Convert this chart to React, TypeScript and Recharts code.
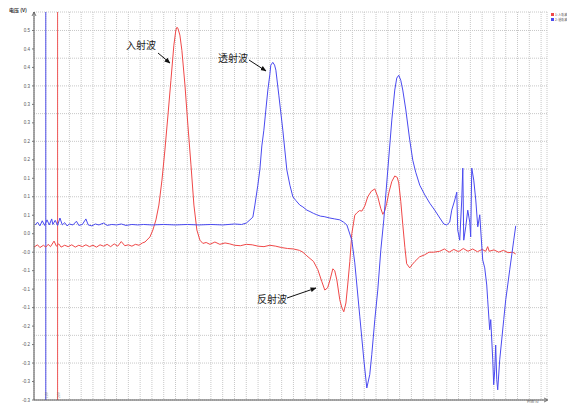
import { CartesianGrid, Line, LineChart, ReferenceLine, XAxis, YAxis } from "recharts";

// 1 unit on the time axis = one grid division
const incidentRows: [number, number][] = [
  [0.0, -0.009], [0.3, -0.004], [0.5, -0.01], [0.8, -0.005], [1.0, -0.009], [1.2, -0.003],
  [1.4, -0.008], [1.7, 0.004], [1.9, -0.007], [2.1, -0.002], [2.3, -0.009], [2.6, -0.005],
  [2.9, -0.008], [3.2, -0.004], [3.5, -0.009], [3.8, -0.005], [4.1, -0.008], [4.4, -0.004],
  [4.7, -0.008], [5.0, -0.005], [5.3, -0.009], [5.6, -0.004], [5.9, -0.007], [6.2, -0.003],
  [6.5, -0.008], [6.8, -0.002], [7.1, -0.007], [7.4, 0.003], [7.7, -0.006], [8.0, -0.004],
  [8.3, -0.007], [8.6, -0.003], [8.9, -0.005], [9.2, 0.0], [9.41, 0.002], [9.83, 0.013],
  [10.08, 0.028], [10.34, 0.05], [10.59, 0.082], [10.85, 0.136], [11.1, 0.201], [11.36, 0.277],
  [11.61, 0.352], [11.86, 0.428], [12.03, 0.461], [12.12, 0.467], [12.2, 0.465], [12.37, 0.45],
  [12.54, 0.417], [12.8, 0.342], [13.05, 0.255], [13.31, 0.169], [13.56, 0.082], [13.81, 0.028],
  [14.07, 0.006], [14.32, -0.001], [14.6, 0.001], [14.92, -0.003], [15.34, 0.002], [15.76, -0.003],
  [16.2, 0.0], [16.6, -0.002], [17.0, -0.005], [17.5, -0.006], [18.0, -0.003], [18.5, -0.004],
  [19.0, -0.007], [19.5, -0.008], [20.0, -0.005], [20.5, -0.007], [21.0, -0.01], [21.5, -0.012],
  [22.0, -0.013], [22.5, -0.016], [22.8, -0.02], [23.14, -0.028], [23.7, -0.04], [24.07, -0.058],
  [24.41, -0.084], [24.66, -0.102], [24.9, -0.097], [25.1, -0.08], [25.34, -0.056], [25.5, -0.06],
  [25.68, -0.08], [25.93, -0.123], [26.1, -0.14], [26.27, -0.149], [26.45, -0.13], [26.6, -0.091],
  [26.78, -0.04], [26.95, 0.02], [27.2, 0.06], [27.37, 0.065], [27.6, 0.07], [27.8, 0.069],
  [28.05, 0.08], [28.3, 0.1], [28.6, 0.112], [28.9, 0.117], [29.15, 0.1], [29.4, 0.075],
  [29.58, 0.062], [29.75, 0.07], [29.9, 0.085], [30.1, 0.11], [30.34, 0.133], [30.59, 0.145],
  [30.8, 0.142], [30.93, 0.13], [31.1, 0.09], [31.27, 0.04], [31.45, -0.01], [31.6, -0.045],
  [31.86, -0.054], [32.1, -0.046], [32.3, -0.04], [32.7, -0.03], [33.1, -0.026], [33.5, -0.02],
  [33.9, -0.02], [34.4, -0.018], [34.8, -0.013], [35.2, -0.02], [35.6, -0.014], [36.0, -0.019],
  [36.4, -0.012], [36.8, -0.018], [37.2, -0.013], [37.6, -0.019], [38.0, -0.014], [38.3, -0.018],
  [38.47, -0.008], [38.6, -0.018], [39.0, -0.015], [39.4, -0.02], [39.8, -0.016], [40.2, -0.021],
  [40.6, -0.02], [40.85, -0.024],
];

const transmittedRows: [number, number][] = [
  [0.1, 0.039], [0.3, 0.045], [0.5, 0.037], [0.7, 0.048], [0.9, 0.038], [1.1, 0.05],
  [1.3, 0.039], [1.5, 0.052], [1.6, 0.04], [1.8, 0.049], [2.0, 0.038], [2.2, 0.054],
  [2.4, 0.039], [2.6, 0.044], [2.8, 0.037], [3.0, 0.041], [3.3, 0.039], [3.6, 0.047],
  [3.8, 0.038], [4.1, 0.04], [4.4, 0.052], [4.6, 0.039], [4.9, 0.037], [5.2, 0.041],
  [5.5, 0.039], [5.9, 0.043], [6.2, 0.038], [6.6, 0.04], [7.0, 0.039], [7.4, 0.041],
  [7.8, 0.038], [8.3, 0.04], [8.8, 0.039], [9.3, 0.04], [10.0, 0.039], [11.0, 0.04],
  [12.0, 0.039], [13.0, 0.04], [14.0, 0.039], [15.0, 0.04], [16.0, 0.039], [17.0, 0.041],
  [17.6, 0.04], [18.0, 0.043], [18.31, 0.05], [18.56, 0.056], [18.73, 0.082], [18.98, 0.125],
  [19.15, 0.158], [19.32, 0.21], [19.49, 0.244], [19.66, 0.288], [19.83, 0.331], [20.0, 0.365],
  [20.08, 0.385], [20.25, 0.391], [20.4, 0.385], [20.51, 0.374], [20.76, 0.32], [21.1, 0.244],
  [21.44, 0.158], [21.7, 0.125], [21.95, 0.1], [22.2, 0.092], [22.54, 0.082], [22.8, 0.078],
  [23.14, 0.071], [23.4, 0.068], [23.7, 0.064], [23.98, 0.061], [24.3, 0.058], [24.6, 0.057],
  [25.08, 0.054], [25.5, 0.052], [25.93, 0.05], [26.25, 0.045], [26.53, 0.039], [26.95, 0.006],
  [27.2, -0.043], [27.63, -0.16], [27.97, -0.253], [28.22, -0.314], [28.47, -0.285],
  [28.64, -0.242], [28.9, -0.166], [29.15, -0.102], [29.41, -0.015], [29.66, 0.05], [30.0, 0.158],
  [30.34, 0.266], [30.59, 0.331], [30.76, 0.357], [30.93, 0.363], [31.1, 0.352], [31.27, 0.331],
  [31.53, 0.288], [31.86, 0.223], [32.12, 0.179], [32.37, 0.153], [32.71, 0.125], [33.14, 0.104],
  [33.56, 0.086], [33.98, 0.071], [34.41, 0.054], [34.75, 0.041], [35.0, 0.039], [35.25, 0.045],
  [35.42, 0.071], [35.68, 0.093], [35.85, 0.11], [35.93, 0.028], [36.1, 0.006], [36.27, 0.093],
  [36.36, 0.162], [36.44, 0.006], [36.61, 0.035], [36.78, 0.071], [36.95, 0.045], [37.03, 0.013],
  [37.12, 0.162], [37.29, 0.136], [37.46, 0.093], [37.63, 0.035], [37.8, 0.061], [37.88, 0.028],
  [38.05, -0.037], [38.22, -0.054], [38.39, -0.091], [38.47, -0.123], [38.64, -0.188],
  [38.73, -0.166], [38.9, -0.253], [38.98, -0.307], [39.07, -0.275], [39.15, -0.221],
  [39.24, -0.296], [39.32, -0.318], [39.49, -0.253], [39.66, -0.21], [39.83, -0.166], [40.0, -0.123],
  [40.17, -0.091], [40.34, -0.058], [40.51, -0.026], [40.68, 0.006], [40.85, 0.037],
];

const yTicks = [
  0.48, 0.46, 0.44, 0.42, 0.4, 0.38, 0.36, 0.34, 0.32, 0.3, 0.28, 0.26, 0.24, 0.22,
  0.2, 0.18, 0.16, 0.14, 0.12, 0.1, 0.08, 0.06, 0.04, 0.02, 0, -0.02, -0.04, -0.06,
  -0.08, -0.1, -0.12, -0.14, -0.16, -0.18, -0.2, -0.22, -0.24, -0.26, -0.28, -0.3, -0.32, -0.34,
];
const xTicks = [
  0, 1, 2, 3, 4, 5, 6, 7, 8, 9, 10, 11, 12, 13, 14, 15, 16, 17, 18, 19, 20, 21,
  22, 23, 24, 25, 26, 27, 28, 29, 30, 31, 32, 33, 34, 35, 36, 37, 38, 39, 40, 41, 42, 43,
];
const cursors = [
  { t: 1, color: "#5050ea", label: "1.00" },
  { t: 2, color: "#f05a5a", label: "2.00" },
];

const RED = "#f04848";
const BLUE = "#4a4af0";
const CJK = '"Noto Sans CJK SC", "Noto Sans", sans-serif';

const toPts = (rows: [number, number][]) => rows.map(([t, v]) => ({ t, v }));

export default function App() {
  return (
    <div style={{ position: "absolute", left: 0, top: 0, width: 567, height: 403, background: "#fff" }}>
      <LineChart width={567} height={403} margin={{ top: 12, right: 20, bottom: 0, left: 4 }}>
        <CartesianGrid stroke="#c8c8c8" strokeDasharray="1 1" />
        <XAxis
          type="number"
          dataKey="t"
          domain={[0, 43.5]}
          ticks={xTicks}
          tickFormatter={() => ""}
          tickLine={false}
          height={3}
          axisLine={{ stroke: "#555" }}
          allowDataOverflow
        />
        <YAxis
          type="number"
          domain={[-0.34, 0.5]}
          ticks={yTicks}
          width={30}
          tickSize={2}
          tickFormatter={(v: number) => v.toFixed(1)}
          tick={{ fontSize: 4.5, fill: "#555", fontFamily: "Arial, sans-serif" }}
          axisLine={{ stroke: "#555" }}
          tickLine={{ stroke: "#777" }}
          allowDataOverflow
        />
        {cursors.map((c) => (
          <ReferenceLine
            key={c.t}
            x={c.t}
            stroke={c.color}
            strokeWidth={1}
            label={{ value: c.label, position: "insideBottomLeft", angle: -90, fontSize: 3.5, fill: "#666", offset: 2 }}
          />
        ))}
        <Line
          data={toPts(incidentRows)}
          dataKey="v"
          stroke={RED}
          strokeWidth={1}
          dot={false}
          isAnimationActive={false}
        />
        <Line
          data={toPts(transmittedRows)}
          dataKey="v"
          stroke={BLUE}
          strokeWidth={1}
          dot={false}
          isAnimationActive={false}
        />
      </LineChart>
      <svg width={567} height={403} style={{ position: "absolute", left: 0, top: 0, pointerEvents: "none" }}>
        <defs>
          <marker id="ah" viewBox="0 0 10 10" refX="9" refY="5" markerWidth="6" markerHeight="6" orient="auto">
            <path d="M0,1 L10,5 L0,9 z" fill="#111" />
          </marker>
        </defs>
        <text x={9} y={12} fontSize={5} fontWeight="bold" fill="#333" fontFamily={CJK}>电压 (V)</text>
        <path d="M32,16 L34,12 L36,16" fill="none" stroke="#555" strokeWidth={0.8} />
        <path d="M544,398 L548,400 L544,402" fill="none" stroke="#555" strokeWidth={0.8} />
        <text x={527} y={403} fontSize={3.5} fill="#555" fontFamily={CJK}>时间 (s)</text>

        <rect x={551} y={13} width={3} height={3} fill={RED} />
        <text x={555} y={16} fontSize={3} fill="#444" fontFamily={CJK}>1: 入射波</text>
        <rect x={551} y={18} width={3} height={3} fill={BLUE} />
        <text x={555} y={21} fontSize={3} fill="#444" fontFamily={CJK}>2: 透射波</text>

        <text x={126} y={49} fontSize={10} fill="#222" fontFamily={CJK}>入射波</text>
        <line x1={158} y1={53} x2={170} y2={63} stroke="#111" strokeWidth={1} markerEnd="url(#ah)" />
        <text x={218} y={62} fontSize={10} fill="#222" fontFamily={CJK}>透射波</text>
        <line x1={249} y1={60} x2={266} y2={71} stroke="#111" strokeWidth={1} markerEnd="url(#ah)" />
        <text x={257} y={303} fontSize={10} fill="#222" fontFamily={CJK}>反射波</text>
        <line x1={287} y1={298} x2={316} y2={288} stroke="#111" strokeWidth={1} markerEnd="url(#ah)" />
      </svg>
    </div>
  );
}
